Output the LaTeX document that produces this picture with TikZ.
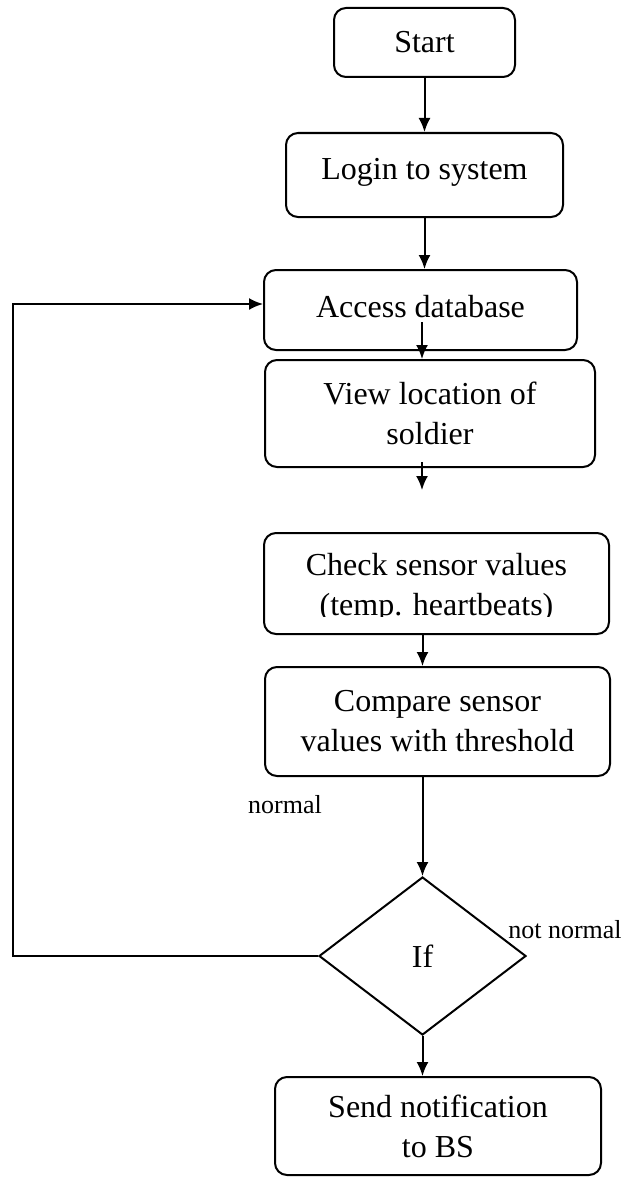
\documentclass[tikz,border=0pt]{standalone}
\usepackage{fontspec}
\setmainfont{Liberation Serif}
\usetikzlibrary{arrows.meta}
\usetikzlibrary{shapes}
\usetikzlibrary{positioning}

\begin{document}
\begin{tikzpicture}[x=0.5pt,y=-0.5pt,line width=1pt,>={Latex[length=7pt,width=6pt]}]
      \tikzstyle{every node}=[font=\fontsize{16}{20}\selectfont]
      \tikzstyle{stepbox}=[draw,rounded corners=6pt,align=center,inner sep=0pt]
      \tikzstyle{smalltext}=[font=\fontsize{13}{15}\selectfont]
      \useasboundingbox (0,0) rectangle (625,1177);

      \node[stepbox,minimum width=90.5pt,minimum height=34.5pt]  (start)   at (424.5,42.5)  {Start};
      \node[stepbox,minimum width=138.5pt,minimum height=42pt,text depth=6pt] (login) at (424.5,175) {Login to system};
      \node[stepbox,minimum width=156.5pt,minimum height=40pt,text depth=4pt] (access) at (420.5,310) {Access database};
      \node[stepbox,minimum width=165pt,minimum height=53.5pt]   (view)    at (430,413.5)   {View location of\\soldier};
      \node[stepbox,minimum width=172.5pt,minimum height=50.5pt] (check)   at (436.5,583.5) {};
      \begin{scope}
        \clip (264,533) rectangle (609,616);
        \node[align=center] (checktext) at (436.5,588) {Check sensor values\\(temp. heartbeats)};
      \end{scope}
      \node[stepbox,minimum width=172.5pt,minimum height=54.5pt] (compare) at (437.5,721.5) {Compare sensor\\values with threshold};
      \node[draw,diamond,inner sep=0pt,minimum width=103.5pt,minimum height=79pt] (ifnode) at (422.5,956) {If};
      \node[stepbox,minimum width=163pt,minimum height=49pt]     (send)    at (438,1126)    {Send notification\\to BS};

      \node[smalltext] (normal)    at (285,805) {normal};
      \node[smalltext] (notnormal) at (565,930) {not normal};

      \coordinate (accessout) at (422,322);
      \coordinate (viewout)   at (422,462);
      \coordinate (viewend)   at (422,490);
      \coordinate (loop)      at (13,956);

      \draw[->] (start.south) -- (login.north);
      \draw[->] (login.south) -- (login.south |- access.north);
      \draw[->] (accessout) -- (accessout |- view.north);
      \draw[->] (viewout) -- (viewend);
      \draw[->] (check.south -| ifnode) -- (compare.north -| ifnode);
      \draw[->] (compare.south -| ifnode) -- (ifnode.north);
      \draw[->] (ifnode.south) -- (send.north -| ifnode);
      \draw[->] (ifnode.west) -- (loop) |- ([yshift=3pt]access.west);
    \end{tikzpicture}
\end{document}
